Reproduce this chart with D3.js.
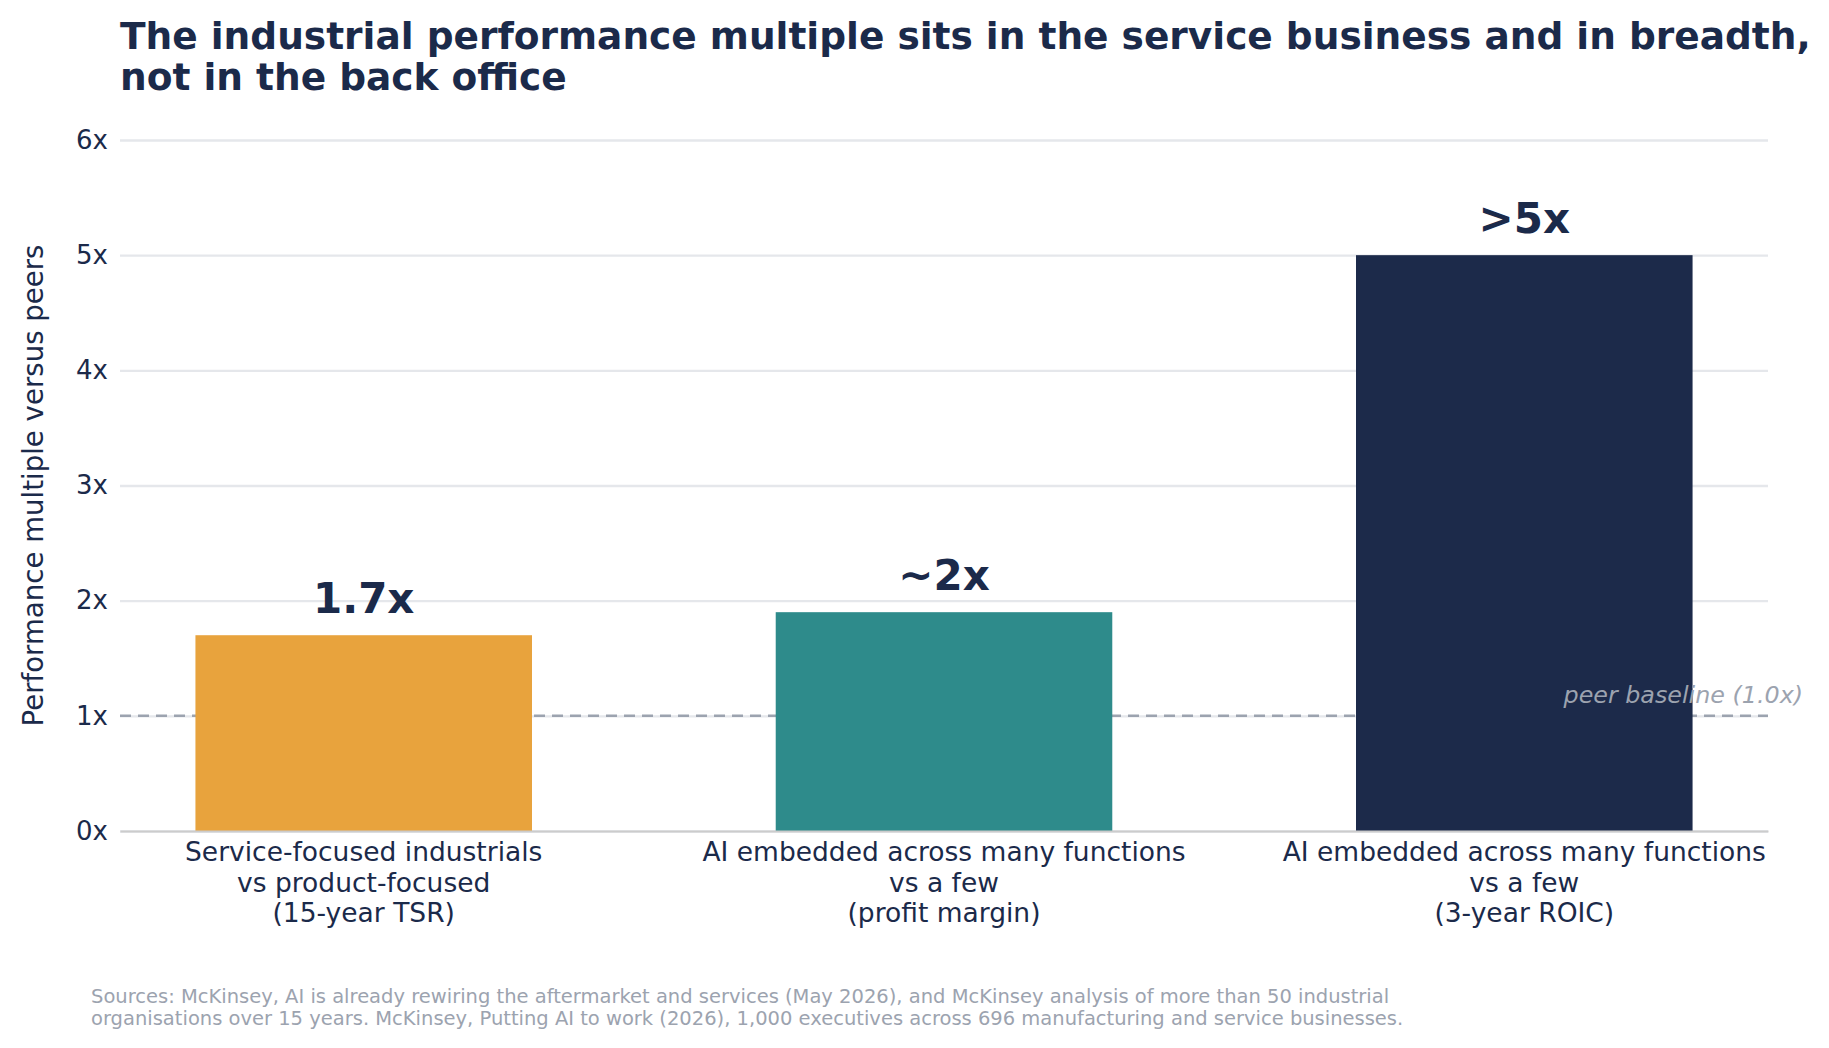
<!DOCTYPE html>
<html>
<head>
<meta charset="utf-8">
<script src="https://cdn.jsdelivr.net/npm/d3@7/dist/d3.min.js"></script>
<style>
  html, body { margin: 0; padding: 0; background: #ffffff; }
  svg { display: block; }
  text { font-family: "DejaVu Sans", sans-serif; }
</style>
</head>
<body>
<svg id="chart" width="1829" height="1048"></svg>
<script>
// ---- data ----
const categories = ["service", "ai_margin", "ai_roic"];
const categoryLabels = [
  ["Service-focused industrials", "vs product-focused", "(15-year TSR)"],
  ["AI embedded across many functions", "vs a few", "(profit margin)"],
  ["AI embedded across many functions", "vs a few", "(3-year ROIC)"]
];
const values = [1.7, 1.9, 5.0];
const valueLabels = ["1.7x", "~2x", ">5x"];
const barColors = ["#e8a33d", "#2e8b8b", "#1c2a4a"];
const yTicks = [0, 1, 2, 3, 4, 5, 6];
const yTickLabels = ["0x", "1x", "2x", "3x", "4x", "5x", "6x"];
const baselineValue = 1.0;
const baselineLabel = "peer baseline (1.0x)";
const titleLines = [
  "The industrial performance multiple sits in the service business and in breadth,",
  "not in the back office"
];
const yLabel = "Performance multiple versus peers";
const footerLines = [
  "Sources: McKinsey, AI is already rewiring the aftermarket and services (May 2026), and McKinsey analysis of more than 50 industrial",
  "organisations over 15 years. McKinsey, Putting AI to work (2026), 1,000 executives across 696 manufacturing and service businesses."
];

(function () {
// ---- layout ----
const svg = d3.select("#chart");
const pL = 120, pR = 1768, pT = 140, pB = 831;
const navy = "#1b2a4a";

const x = d3.scaleBand().domain(categories).range([pL, pR]).paddingInner(0.42).paddingOuter(0.13);
const y = d3.scaleLinear().domain([0, 6]).range([pB, pT]);

svg.append("rect").attr("width", 1829).attr("height", 1048).attr("fill", "#ffffff");

// gridlines + y tick labels
const yAxis = d3.axisLeft(y)
  .tickValues(yTicks)
  .tickFormat((d, i) => yTickLabels[i])
  .tickSize(-(pR - pL))
  .tickPadding(12);
const gy = svg.append("g").attr("transform", `translate(${pL},0)`).call(yAxis);
gy.select(".domain").remove();
gy.selectAll(".tick line").attr("stroke", "#e5e7eb").attr("stroke-width", 2.4);
gy.selectAll(".tick text")
  .attr("fill", navy)
  .style("font-size", "26px")
  .style("font-family", "DejaVu Sans, sans-serif");

// peer baseline (behind bars)
svg.append("line")
  .attr("x1", pL).attr("x2", pR)
  .attr("y1", y(baselineValue)).attr("y2", y(baselineValue))
  .attr("stroke", "#9ca3af").attr("stroke-width", 2.5)
  .attr("stroke-dasharray", "11,7");

// bars
svg.append("g").selectAll("rect").data(values).join("rect")
  .attr("x", (d, i) => x(categories[i]))
  .attr("width", x.bandwidth())
  .attr("y", d => y(d))
  .attr("height", d => y(0) - y(d))
  .attr("fill", (d, i) => barColors[i]);

// bottom axis line
const xAxis = d3.axisBottom(x).tickSize(0).tickFormat("");
const gx = svg.append("g").attr("transform", `translate(0,${pB})`).call(xAxis);
gx.select(".domain").attr("stroke", "#cccccc").attr("stroke-width", 2);

// category labels
const catG = svg.append("g");
categories.forEach((c, i) => {
  const t = catG.append("text")
    .attr("x", x(c) + x.bandwidth() / 2)
    .attr("y", pB + 30)
    .attr("text-anchor", "middle")
    .attr("fill", navy)
    .style("font-size", "26.5px");
  categoryLabels[i].forEach((line, j) => {
    t.append("tspan")
      .attr("x", x(c) + x.bandwidth() / 2)
      .attr("dy", j === 0 ? 0 : 30.5)
      .text(line);
  });
});

// value labels
svg.append("g").selectAll("text").data(values).join("text")
  .attr("x", (d, i) => x(categories[i]) + x.bandwidth() / 2)
  .attr("y", d => y(d) - 22)
  .attr("text-anchor", "middle")
  .attr("fill", navy)
  .style("font-size", "42px")
  .style("font-weight", "bold")
  .text((d, i) => valueLabels[i]);

// baseline label
svg.append("text")
  .attr("x", 1803)
  .attr("y", y(baselineValue) - 13)
  .attr("text-anchor", "end")
  .attr("fill", "#9ca3af")
  .style("font-size", "23.8px")
  .style("font-style", "italic")
  .text(baselineLabel);

// y axis label
svg.append("text")
  .attr("transform", `translate(43,${(pT + pB) / 2}) rotate(-90)`)
  .attr("text-anchor", "middle")
  .attr("fill", navy)
  .style("font-size", "27.6px")
  .text(yLabel);

// title
const title = svg.append("text")
  .attr("x", pL).attr("y", 49)
  .attr("fill", navy)
  .style("font-size", "37.5px")
  .style("font-weight", "bold");
titleLines.forEach((line, j) => {
  title.append("tspan").attr("x", pL).attr("dy", j === 0 ? 0 : 41).text(line);
});

// footer
const footer = svg.append("text")
  .attr("x", 91).attr("y", 1003)
  .attr("fill", "#9ca3af")
  .style("font-size", "19.5px");
footerLines.forEach((line, j) => {
  footer.append("tspan").attr("x", 91).attr("dy", j === 0 ? 0 : 21.5).text(line);
});
})();
</script>
</body>
</html>
